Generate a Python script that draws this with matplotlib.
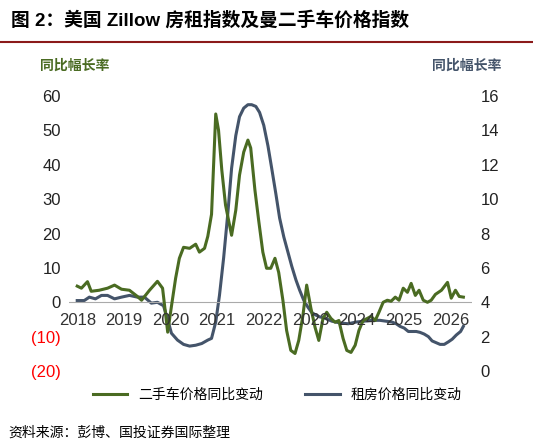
import matplotlib.pyplot as plt
import numpy as np

plt.rcParams['font.family'] = ['Liberation Sans', 'Noto Sans CJK SC', 'DejaVu Sans']

green = '#4a6b22'
navy = '#44546a'

car_t = [2018.00, 2018.09, 2018.22, 2018.30, 2018.47, 2018.65, 2018.80, 2018.95, 2019.12, 2019.29,
         2019.38, 2019.55, 2019.72, 2019.83, 2019.94, 2020.02, 2020.11, 2020.19, 2020.28, 2020.41,
         2020.54, 2020.62, 2020.73, 2020.80, 2020.88, 2020.97, 2021.03, 2021.10, 2021.18, 2021.31,
         2021.40, 2021.48, 2021.57, 2021.66, 2021.72, 2021.81, 2021.89, 2021.98, 2022.06, 2022.15,
         2022.24, 2022.32, 2022.41, 2022.49, 2022.58, 2022.67, 2022.75, 2022.84, 2022.92, 2023.01,
         2023.10, 2023.18, 2023.27, 2023.35, 2023.44, 2023.53, 2023.61, 2023.70, 2023.78, 2023.87,
         2023.96, 2024.04, 2024.13, 2024.22, 2024.30, 2024.39, 2024.47, 2024.56, 2024.65, 2024.73,
         2024.82, 2024.90, 2024.99, 2025.08, 2025.16, 2025.25, 2025.33, 2025.42, 2025.51, 2025.59,
         2025.68, 2025.81, 2025.94, 2026.02, 2026.11, 2026.19, 2026.28]
car_v = [4.7, 4.1, 6.0, 3.2, 3.5, 4.1, 5.0, 3.8, 3.5, 1.7,
         0.6, 3.5, 6.1, 4.1, -8.7, -1.2, 7.0, 12.8, 16.0, 15.7,
         16.9, 14.6, 15.7, 19.2, 25.6, 54.8, 50.1, 38.5, 28.3, 19.5,
         26.8, 37.0, 43.7, 47.2, 44.9, 32.7, 23.9, 14.6, 9.9, 9.9,
         12.8, 8.7, 0.6, -8.2, -14.0, -14.9, -11.1, -3.8, 5.0, -1.7,
         -7.3, -11.1, -4.7, -2.9, -4.7, -5.8, -5.3, -10.5, -14.0, -14.6,
         -12.5, -8.2, -5.3, -4.7, -4.1, -5.3, -2.9, 0.0, 0.6, 0.3,
         1.5, 0.6, 4.1, 2.9, 5.5, 2.0, 3.5, 0.6, 0.0, 0.6,
         2.3, 3.5, 5.8, 1.2, 3.5, 1.7, 1.5]

rent_t = [2018.00, 2018.15, 2018.26, 2018.39, 2018.52, 2018.65, 2018.80, 2018.95, 2019.12, 2019.29,
          2019.44, 2019.59, 2019.72, 2019.85, 2019.94, 2020.02, 2020.15, 2020.28, 2020.41, 2020.54,
          2020.67, 2020.80, 2020.88, 2020.97, 2021.05, 2021.14, 2021.23, 2021.31, 2021.40, 2021.48,
          2021.57, 2021.66, 2021.74, 2021.83, 2021.91, 2022.00, 2022.09, 2022.17, 2022.26, 2022.34,
          2022.43, 2022.52, 2022.60, 2022.69, 2022.77, 2022.86, 2022.95, 2023.03, 2023.12, 2023.20,
          2023.29, 2023.46, 2023.63, 2023.81, 2023.98, 2024.15, 2024.32, 2024.49, 2024.75, 2024.84,
          2024.92, 2025.01, 2025.10, 2025.27, 2025.35, 2025.44, 2025.53, 2025.61, 2025.78, 2025.87,
          2025.96, 2026.04, 2026.13, 2026.22, 2026.28]
rent_v = [4.1, 4.1, 4.3, 4.2, 4.4, 4.4, 4.2, 4.3, 4.4, 4.3,
          4.3, 3.95, 4.0, 3.8, 3.0, 2.2, 1.8, 1.55, 1.45, 1.5,
          1.6, 1.8, 1.9, 2.85, 4.4, 6.6, 9.2, 11.8, 13.7, 14.8,
          15.3, 15.5, 15.5, 15.4, 15.05, 14.3, 13.1, 11.8, 10.3, 8.9,
          7.8, 6.9, 6.1, 5.3, 4.7, 4.1, 3.7, 3.4, 3.25, 3.15,
          3.1, 2.9, 2.8, 2.75, 2.85, 2.9, 2.95, 2.95, 2.85, 2.75,
          2.6, 2.5, 2.3, 2.3, 2.25, 2.15, 2.0, 1.75, 1.55, 1.55,
          1.7, 1.85, 2.1, 2.3, 2.6]

years = [2018, 2019, 2020, 2021, 2022, 2023, 2024, 2025, 2026]
left_ticks = [60, 50, 40, 30, 20, 10, 0, -10, -20]
right_ticks = [0, 2, 4, 6, 8, 10, 12, 14, 16]

fig = plt.figure(figsize=(5.33, 4.47), dpi=100)
ax = fig.add_axes([0.13, 0.17, 0.756, 0.615])
ax2 = ax.twinx()

ax.plot(car_t, car_v, color=green, lw=2.2, label='二手车价格同比变动', zorder=3)
ax2.plot(rent_t, rent_v, color=navy, lw=2.2, label='租房价格同比变动')
ax.set_zorder(ax2.get_zorder() + 1)
ax.patch.set_visible(False)

ax.set_xlim(2017.83, 2026.47)
ax.set_ylim(-20, 60)
ax2.set_ylim(0, 16)
ax.axhline(0, color='#aaaaaa', lw=0.8, zorder=1)

ax.set_yticks(left_ticks)
ax.set_yticklabels(['(%d)' % -v if v < 0 else str(v) for v in left_ticks], fontsize=12)
for lab, v in zip(ax.get_yticklabels(), left_ticks):
    lab.set_color('red' if v < 0 else '#222222')
ax2.set_yticks(right_ticks)
ax2.set_yticklabels([str(v) for v in right_ticks], fontsize=12, color='#222222')
ax.set_xticks([])
for y in years:
    ax.text(y, -5.3, str(y), ha='center', va='center', fontsize=12, color='#333333')

for a in (ax, ax2):
    for s in a.spines.values():
        s.set_visible(False)
    a.tick_params(length=0, pad=6)

fig.text(0.075, 0.845, '同比幅长率', color=green, fontsize=10, fontweight='bold')
fig.text(0.94, 0.845, '同比幅长率', color=navy, fontsize=10, fontweight='bold', ha='right')

h1, l1 = ax.get_legend_handles_labels()
h2, l2 = ax2.get_legend_handles_labels()
fig.legend(h1 + h2, l1 + l2, loc='center', bbox_to_anchor=(0.52, 0.117), ncol=2,
           frameon=False, fontsize=10, handlelength=2.5, columnspacing=3)

fig.text(0.02, 0.955, '图 2：美国 Zillow 房租指数及曼二手车价格指数', fontsize=13.5,
         fontweight='bold', va='center')
fig.add_artist(plt.Line2D([0.0, 1.0], [0.905, 0.905], color='#8b1a1a', lw=1.5))
fig.text(0.015, 0.033, '资料来源：彭博、国投证券国际整理', fontsize=10, style='italic', va='center')

fig.savefig('out.png', dpi=100)
